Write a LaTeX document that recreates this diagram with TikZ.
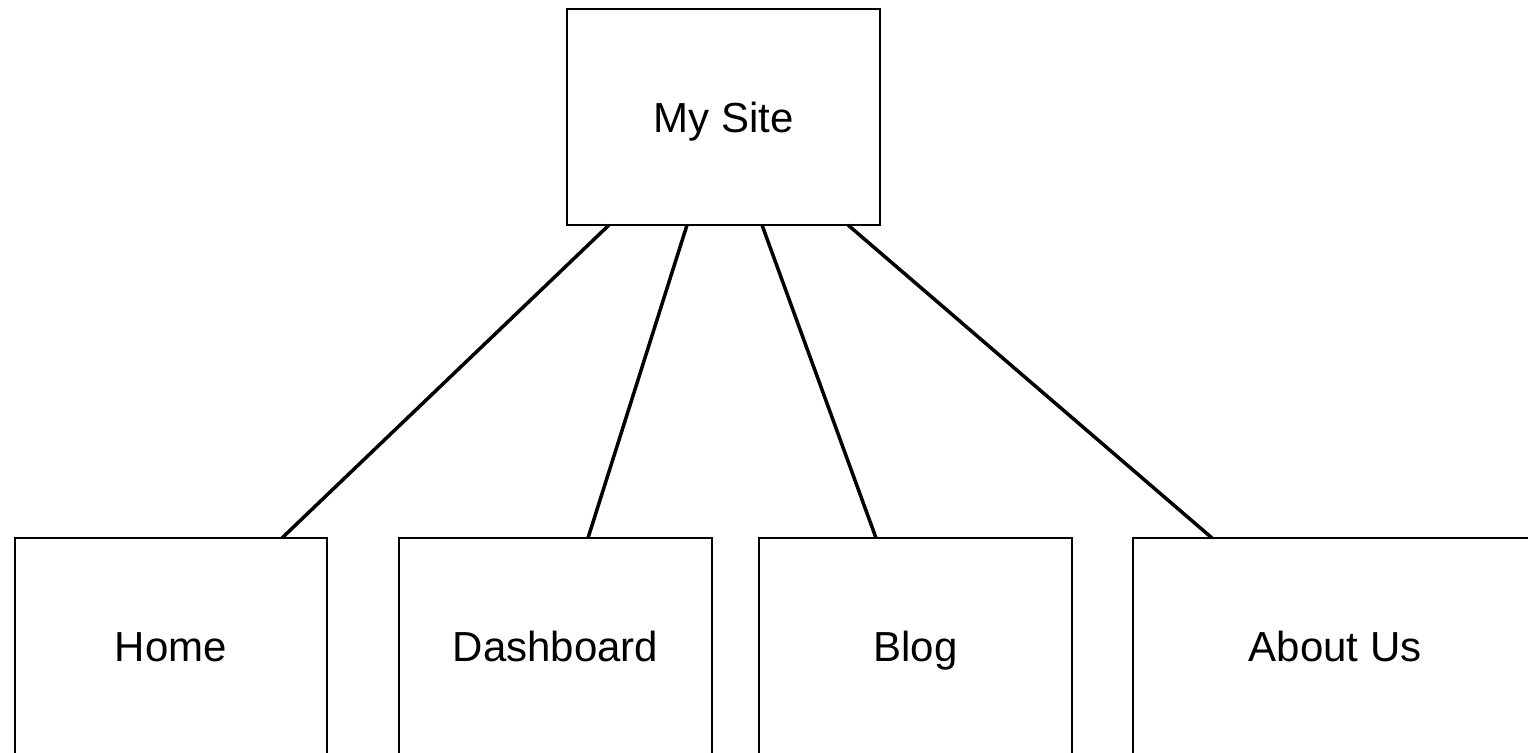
\documentclass[tikz,border=0pt]{standalone}
\usepackage{fontspec}
\setmainfont{Liberation Sans}
\begin{document}
\begin{tikzpicture}[x=1pt,y=-1pt,
  page/.style={draw=black, line width=2pt, rectangle, inner sep=0pt, outer sep=0pt,
    minimum height=216pt, text height=31pt, text depth=0pt,
    font=\fontsize{42}{50}\selectfont},
  link/.style={draw=black, line width=3.5pt}]
  \useasboundingbox (0,0) rectangle (1528,752);
  \clip (0,0) rectangle (1528,752);
  \fill[white] (0,0) rectangle (1528,752);
  % root page
  \node[page, minimum width=313pt] (site) at (723.5,117) {My Site};
  % child pages
  \node[page, minimum width=312pt] (home) at (171,646) {Home};
  \node[page, minimum width=313pt] (dash) at (555.5,646) {Dashboard};
  \node[page, minimum width=313pt] (blog) at (915.5,646) {Blog};
  \node[page, minimum width=404pt] (about) at (1335,646) {About Us};
  % links from the root to each page
  \draw[link] ([xshift=-114.5pt]site.south) -- ([xshift=111pt]home.north);
  \draw[link] ([xshift=-36.5pt]site.south) -- ([xshift=32.5pt]dash.north);
  \draw[link] ([xshift=38.5pt]site.south) -- ([xshift=-39.5pt]blog.north);
  \draw[link] ([xshift=124.5pt]site.south) -- ([xshift=-123pt]about.north);
\end{tikzpicture}
\end{document}
